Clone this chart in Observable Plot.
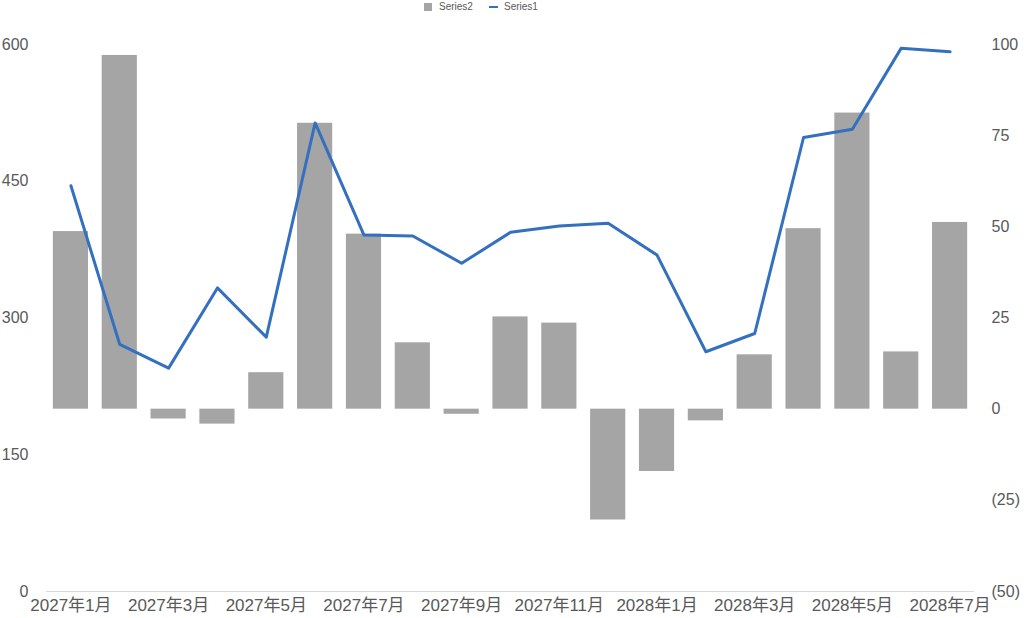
<!DOCTYPE html>
<html>
<head>
<meta charset="utf-8">
<script src="https://cdn.jsdelivr.net/npm/d3@7"></script>
<script src="https://cdn.jsdelivr.net/npm/@observablehq/plot@0.6"></script>
<style>
  body { margin: 0; background: #fff; font-family: "Liberation Sans", Arial, "Noto Sans CJK JP", sans-serif; }
  #wrap { position: relative; width: 1024px; height: 618px; }
  #legend { position: absolute; top: 0; left: 0; width: 1024px; height: 14px; font-size: 10px; color: #595959; }
  #legend span { position: absolute; top: 1px; }
</style>
</head>
<body>
<div id="wrap">
  <div id="chart"></div>
  <div id="legend">
    <span style="left:424px;top:3px;width:8px;height:8px;background:#a5a5a5"></span>
    <span style="left:439px">Series2</span>
    <span style="left:489px;top:6px;width:9px;height:2px;background:#3470c0"></span>
    <span style="left:504px">Series1</span>
  </div>
</div>
<script>
const months = ["2027年1月","2027年2月","2027年3月","2027年4月","2027年5月","2027年6月","2027年7月","2027年8月","2027年9月","2027年10月","2027年11月","2027年12月","2028年1月","2028年2月","2028年3月","2028年4月","2028年5月","2028年6月","2028年7月"];
// Series1: line, left axis (0–600)
const series1 = [445, 271, 245, 333, 279, 514, 391, 390, 360, 394, 401, 404, 369, 263, 283, 498, 507, 596, 592];
// Series2: bars, right axis (-50–100)
const series2 = [48.7, 97, -2.7, -4.1, 10.0, 78.4, 48.0, 18.2, -1.4, 25.3, 23.6, -30.4, -17.1, -3.2, 14.9, 49.5, 81.2, 15.7, 51.2];
const leftTicks = [0, 150, 300, 450, 600];
const rightTicks = [-50, -25, 0, 25, 50, 75, 100];
const xTickLabels = months.filter((d, i) => i % 2 === 0);

// map right-axis value onto the left-axis scale
const toLeft = v => (v + 50) * 4;
const rows = months.map((m, i) => ({month: m, s1: series1[i], s2: series2[i]}));
const fmtRight = v => v < 0 ? `(${Math.abs(v)})` : `${v}`;

const chart = Plot.plot({
  width: 1024,
  height: 618,
  marginTop: 44,
  marginBottom: 27,
  marginLeft: 46,
  marginRight: 50,
  style: {fontFamily: '"Liberation Sans", Arial, "Noto Sans CJK JP", sans-serif', fontSize: "15px", color: "#595959", background: "#fff"},
  x: {type: "band", domain: months, paddingInner: 0.28, paddingOuter: 0.14, round: false, label: null},
  y: {domain: [0, 600], label: null},
  marks: [
    Plot.barY(rows, {x: "month", y1: toLeft(0), y2: d => toLeft(d.s2), fill: "#a5a5a5"}),
    Plot.ruleY([0], {stroke: "#d9d9d9", strokeWidth: 1}),
    Plot.lineY(rows, {x: "month", y: "s1", stroke: "#3470c0", strokeWidth: 3, strokeLinejoin: "round"}),
    Plot.axisY({anchor: "left", ticks: leftTicks, tickSize: 0, tickPadding: 18, label: null, fontSize: 16}),
    Plot.axisY({anchor: "right", ticks: rightTicks.map(toLeft), tickFormat: d => fmtRight(d / 4 - 50), tickSize: 0, tickPadding: 17, label: null, fontSize: 16}),
    Plot.axisX({ticks: xTickLabels, tickSize: 0, tickPadding: 7, label: null, fontSize: 17})
  ]
});
document.getElementById("chart").appendChild(chart);
</script>
</body>
</html>
